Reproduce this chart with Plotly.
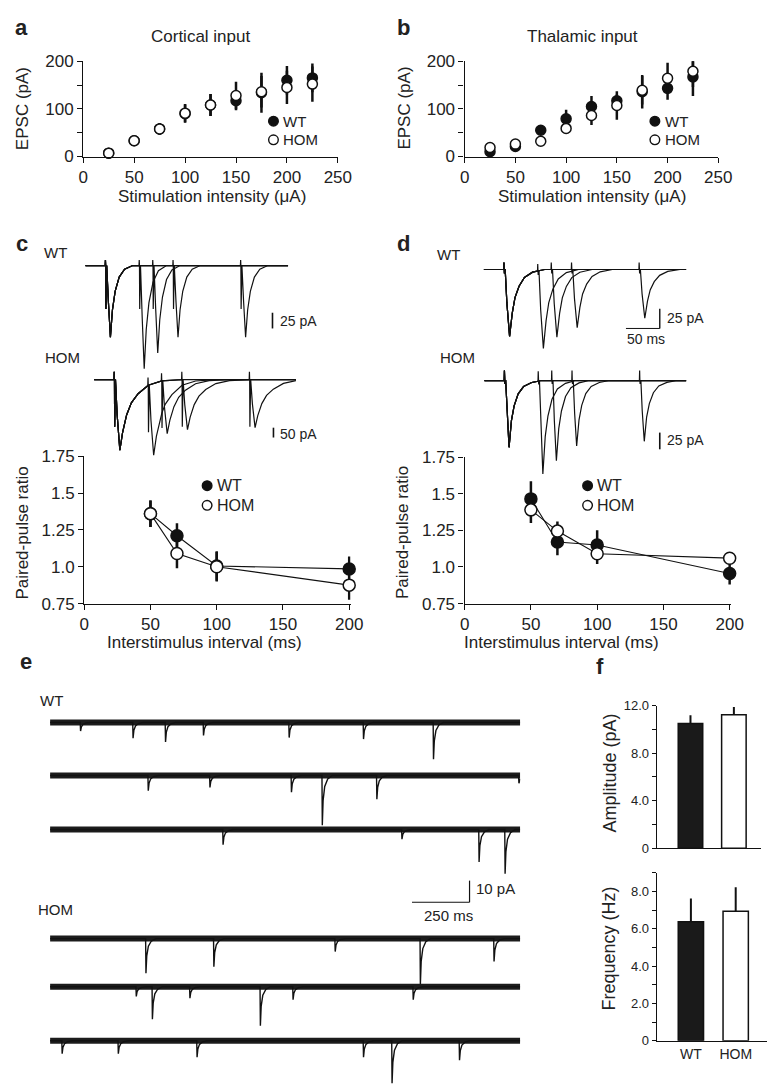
import numpy as np
import plotly.graph_objects as go

W, H = 776, 1086
FONT = "Liberation Sans, Arial, Helvetica, sans-serif"
INK = "#111111"
TXT = "#222222"

# ---------------- data ----------------
stim_intensity = [25, 50, 75, 100, 125, 150, 175, 200, 225]
cortical_wt = [7, 33, 58, 90, 108, 117, 134, 160, 165]
cortical_wt_err = [3, 5, 12, 19, 23, 20, 42, 30, 30]
cortical_hom = [7, 33, 58, 91, 108, 128, 136, 145, 152]
cortical_hom_err = [3, 5, 12, 19, 23, 29, 33, 35, 37]
thalamic_wt = [10, 21, 55, 79, 105, 117, 136, 143, 167]
thalamic_wt_err = [4, 4, 6, 19, 22, 13, 35, 24, 40]
thalamic_hom = [19, 26, 32, 59, 86, 107, 139, 164, 179]
thalamic_hom_err = [4, 4, 6, 10, 20, 30, 30, 33, 33]
intensity_ticks = [0, 50, 100, 150, 200, 250]
epsc_ticks = [0, 50, 100, 150, 200]
epsc_ticktext = ["0", "", "100", "", "200"]

isi_ms = [50, 70, 100, 200]
ppr_cort_wt = [1.36, 1.21, 1.005, 0.985]
ppr_cort_wt_err = [0.09, 0.085, 0.10, 0.085]
ppr_cort_hom = [1.36, 1.09, 1.0, 0.875]
ppr_cort_hom_err = [0.09, 0.10, 0.10, 0.10]
ppr_thal_wt = [1.465, 1.17, 1.15, 0.955]
ppr_thal_wt_err = [0.12, 0.09, 0.10, 0.075]
ppr_thal_hom = [1.39, 1.245, 1.09, 1.06]
ppr_thal_hom_err = [0.09, 0.066, 0.07, 0.02]
isi_ticks = [0, 50, 100, 150, 200]
ppr_ticks = [0.75, 1.0, 1.25, 1.5, 1.75]
ppr_ticktext = ["0.75", "1.0", "1.25", "1.5", "1.75"]

# example paired-pulse sweeps: first / second EPSC amplitude (pA) for each ISI
sweep_cort_wt_first = 114
sweep_cort_wt_second = [164, 139, 114, 114]
sweep_cort_hom_first = 360
sweep_cort_hom_second = [365, 270, 255, 245]
sweep_thal_wt_first = 85
sweep_thal_wt_second = [100, 86, 74, 62]
sweep_thal_hom_first = 100
sweep_thal_hom_second = [140, 120, 98, 91]
# EPSC waveforms (ms after stimulus, fraction of peak)
epsc_cort_wt_t = [0, 1.5, 4, 7, 10, 14, 20, 28, 40]
epsc_cort_wt_f = [0, 0, 0.5, 1, 0.62, 0.36, 0.16, 0.05, 0]
epsc_cort_hom_t = [0, 1.5, 4, 8, 12, 18, 25, 35, 50, 70, 100]
epsc_cort_hom_f = [0, 0, 0.5, 1, 0.75, 0.5, 0.33, 0.2, 0.08, 0.02, 0]
epsc_thal_wt_t = [0, 1.5, 4, 8, 12, 16, 22, 30, 42, 60]
epsc_thal_wt_f = [0, 0, 0.5, 1, 0.65, 0.42, 0.25, 0.12, 0.04, 0]
epsc_thal_hom_t = [0, 1.5, 3.5, 6.5, 10, 14, 20, 28, 40, 55]
epsc_thal_hom_f = [0, 0, 0.5, 1, 0.6, 0.38, 0.2, 0.09, 0.03, 0]
# stimulus artefacts (pA up, pA down)
artefact_cort_wt = [9, 69]
artefact_cort_hom = [40, 240]
artefact_thal_wt = [9, 5]
artefact_thal_hom = [15, 5]
sweep_window_ms = [-30, 270]

# miniature EPSCs: event times (ms) and amplitudes (pA) per 2-s row
mini_row_ms = 2042
mini_wt_times = [[131, 359, 500, 665, 1037, 1360, 1664],
                 [425, 693, 1047, 1181, 1418, 2035],
                 [750, 1527, 1862, 1975]]
mini_wt_amps = [[4, 7.3, 9, 6, 7, 7.7, 17],
                [7, 5.5, 7.7, 23, 11, 3.6],
                [7, 4.5, 15, 20.5]]
mini_hom_times = [[415, 710, 1237, 1607, 1927],
                  [373, 443, 606, 912, 1054, 1576],
                  [51, 295, 637, 1360, 1484, 1777]]
mini_hom_amps = [[16, 13, 6, 21, 10.6],
                 [4.5, 15, 5.3, 18, 6, 6],
                 [6, 6, 7.6, 7.6, 19.7, 9]]
mini_shape_t = [0, 1.5, 5, 12, 25, 45]
mini_shape_f = [0, 1, 0.5, 0.22, 0.07, 0]

categories = ["WT", "HOM"]
amplitude_mean = [10.5, 11.25]
amplitude_sem = [0.7, 0.65]
frequency_mean = [6.37, 6.94]
frequency_sem = [1.25, 1.29]
amp_ticks = [0, 2, 4, 6, 8, 10, 12]
amp_ticktext = ["0", "", "4.0", "", "8.0", "", "12.0"]
freq_ticks = [0, 1, 2, 3, 4, 5, 6, 7, 8, 9]
freq_ticktext = ["0", "", "2.0", "", "4.0", "", "6.0", "", "8.0", ""]

# ---------------- helpers ----------------
def px(x):
    return x / W


def py(y):
    return 1 - y / H


layout = {}
traces = []
shapes = []
annotations = []
_n = [0]

HIDDEN = dict(visible=False, showgrid=False, zeroline=False, fixedrange=True)


def axstyle(size=17, **kw):
    d = dict(showline=True, linecolor=INK, linewidth=1.4, ticks="outside", ticklen=5,
             tickwidth=1.4, tickcolor=INK, showgrid=False, zeroline=False, fixedrange=True,
             tickfont=dict(family=FONT, size=size, color=TXT))
    d.update(kw)
    return d


def add_axes(xpx, ypx, xrange, yrange, xs=None, ys=None):
    _n[0] += 1
    k = "" if _n[0] == 1 else str(_n[0])
    xa = dict(HIDDEN) if xs is None else dict(xs)
    ya = dict(HIDDEN) if ys is None else dict(ys)
    xa.update(domain=[px(xpx[0]), px(xpx[1])], range=xrange, anchor="y" + k)
    ya.update(domain=[py(ypx[1]), py(ypx[0])], range=yrange, anchor="x" + k)
    layout["xaxis" + k] = xa
    layout["yaxis" + k] = ya
    return "x" + k, "y" + k


def trace_axes(xpx, ref_px, px_per_ms, ypx, base_px, px_per_pa):
    # x: time (ms) with 0 at ref_px; y: current (pA) with 0 at base_px
    y0, y1 = ypx[0], min(ypx[1], H)
    xr = [(xpx[0] - ref_px) / px_per_ms, (xpx[1] - ref_px) / px_per_ms]
    yr = [-(y1 - base_px) / px_per_pa, (base_px - y0) / px_per_pa]
    return add_axes(xpx, (y0, y1), xr, yr)


def ann(text, x, y, size=17, xanchor="center", yanchor="middle", bold=False, angle=0, color=TXT):
    annotations.append(dict(text=("<b>%s</b>" % text) if bold else text, x=px(x), y=py(y),
                            xref="paper", yref="paper", showarrow=False, xanchor=xanchor,
                            yanchor=yanchor, textangle=angle,
                            font=dict(family=FONT, size=size, color=color)))


def line_px(x0, y0, x1, y1, w=1.6):
    shapes.append(dict(type="line", xref="paper", yref="paper", x0=px(x0), y0=py(y0),
                       x1=px(x1), y1=py(y1), line=dict(color=INK, width=w)))


def legend_key(x, y, filled, label, size=16, r=4.8):
    shapes.append(dict(type="circle", xref="paper", yref="paper", xsizemode="pixel",
                       ysizemode="pixel", xanchor=px(x), yanchor=py(y), x0=-r, x1=r, y0=-r, y1=r,
                       fillcolor=INK if filled else "white", line=dict(color=INK, width=1.4)))
    ann(label, x + 8, y, size=size, xanchor="left")


def scatter_pair(xa, ya, xvals, wt, wt_err, hom, hom_err, msize, lines):
    for vals, err, filled in ((wt, wt_err, True), (hom, hom_err, False)):
        traces.append(go.Scatter(
            x=xvals, y=vals, xaxis=xa, yaxis=ya, mode="lines+markers" if lines else "markers",
            line=dict(color=INK, width=1.1), cliponaxis=False, hoverinfo="skip", showlegend=False,
            marker=dict(size=msize, color=INK if filled else "white", line=dict(color=INK, width=1.5)),
            error_y=dict(type="data", array=err, visible=True, thickness=2.5, width=0, color=INK)))


def sweep(isi, a1, a2, shp_t, shp_f, art):
    art_t = [-0.7, -0.35, 0.0, 0.35, 0.7]
    art_v = [0, art[0], 0, -art[1], 0]
    comps = [(0, a1), (isi, a2)]
    grid = list(sweep_window_ms)
    for ts, _ in comps:
        grid += [ts + v for v in art_t] + [ts + v for v in shp_t]
    grid = np.unique(np.array(grid, dtype=float))
    y = np.zeros_like(grid)
    for ts, a in comps:
        y -= a * np.interp(grid - ts, shp_t, shp_f, left=0, right=0)
        y += np.interp(grid - ts, art_t, art_v, left=0, right=0)
    return grid, y


def draw_sweeps(xa, ya, first, seconds, shp_t, shp_f, art):
    for isi, a2 in zip(isi_ms, seconds):
        t, y = sweep(isi, first, a2, shp_t, shp_f, art)
        traces.append(go.Scatter(x=t, y=y, xaxis=xa, yaxis=ya, mode="lines", hoverinfo="skip",
                                 showlegend=False, line=dict(color=INK, width=1.2)))


def draw_mini_row(xa, ya, times, amps):
    grid = [0.0, float(mini_row_ms)]
    for t0 in times:
        grid += [t0 + v for v in mini_shape_t]
    grid = np.unique(np.clip(np.array(grid), 0, mini_row_ms))
    y = np.zeros_like(grid)
    for t0, a in zip(times, amps):
        y -= a * np.interp(grid - t0, mini_shape_t, mini_shape_f, left=0, right=0)
    # recording-noise band drawn as a thick dark stroke along the baseline
    traces.append(go.Scatter(x=[0, mini_row_ms], y=[0, 0], xaxis=xa, yaxis=ya, mode="lines",
                             hoverinfo="skip", showlegend=False,
                             line=dict(color="#1c1c1c", width=6)))
    traces.append(go.Scatter(x=grid, y=y, xaxis=xa, yaxis=ya, mode="lines", hoverinfo="skip",
                             showlegend=False, line=dict(color=INK, width=1.4)))


# ---------------- panels a, b ----------------
for (x0, x1), wt, wte, hom, home, title, tx in (
        ((72, 333), cortical_wt, cortical_wt_err, cortical_hom, cortical_hom_err, "Cortical input", 192),
        ((463, 723), thalamic_wt, thalamic_wt_err, thalamic_hom, thalamic_hom_err, "Thalamic input", 584)):
    xa, ya = add_axes((x0, x1), (45, 142), [0, 250], [0, 200],
                      axstyle(tickvals=intensity_ticks),
                      axstyle(tickvals=epsc_ticks, ticktext=epsc_ticktext))
    scatter_pair(xa, ya, stim_intensity, wt, wte, hom, home, 10, False)
    ann(title, tx, 20)
    ann("Stimulation intensity (\u03bcA)", (x0 + x1) / 2 + 1, 183)
    ann("EPSC (pA)", x0 - 62, 93, angle=-90)
    legend_key(x0 + 195, 106, True, "WT", size=15)
    legend_key(x0 + 195, 125, False, "HOM", size=15)

ann("a", 9, 11, size=22, bold=True)
ann("b", 400, 11, size=22, bold=True)

# ---------------- panels c, d: example traces ----------------
K = 0.693  # px per ms
xa, ya = trace_axes((74, 282), 95, K, (228, 372), 253, 0.64)
draw_sweeps(xa, ya, sweep_cort_wt_first, sweep_cort_wt_second, epsc_cort_wt_t, epsc_cort_wt_f, artefact_cort_wt)
xa, ya = trace_axes((83, 290), 104, K, (345, 470), 369, 0.2)
draw_sweeps(xa, ya, sweep_cort_hom_first, sweep_cort_hom_second, epsc_cort_hom_t, epsc_cort_hom_f, artefact_cort_hom)
xa, ya = trace_axes((482, 690), 503.5, K, (235, 345), 257, 0.8)
draw_sweeps(xa, ya, sweep_thal_wt_first, sweep_thal_wt_second, epsc_thal_wt_t, epsc_thal_wt_f, artefact_thal_wt)
xa, ya = trace_axes((483, 690), 504, K, (350, 470), 370, 0.68)
draw_sweeps(xa, ya, sweep_thal_hom_first, sweep_thal_hom_second, epsc_thal_hom_t, epsc_thal_hom_f, artefact_thal_hom)

# scale bars
line_px(266, 301, 266, 301 + 25 * 0.64)
ann("25 pA", 272, 309, size=14, xanchor="left")
line_px(267, 418, 267, 418 + 50 * 0.2)
ann("50 pA", 272, 424, size=14, xanchor="left")
line_px(663, 297, 663, 297 + 25 * 0.8, w=1.4)
line_px(663 - 50 * K, 317, 663, 317, w=1.0)
ann("25 pA", 668, 306, size=14, xanchor="left")
ann("50 ms", 649, 328, size=14)
line_px(663, 423, 663, 423 + 25 * 0.68)
ann("25 pA", 668, 431, size=14, xanchor="left")

ann("c", 9, 231, size=22, bold=True)
ann("d", 400, 231, size=22, bold=True)
ann("WT", 44, 240, size=15)
ann("WT", 446, 242, size=15)
ann("HOM", 51, 347, size=15)
ann("HOM", 456, 347, size=15)

# ---------------- panels c, d: paired-pulse ratio ----------------
for (x0, x1), (y0, y1), wt, wte, hom, home, tcx in (
        ((73, 346), (447, 597), ppr_cort_wt, ppr_cort_wt_err, ppr_cort_hom, ppr_cort_hom_err, 196),
        ((463, 736), (448, 597), ppr_thal_wt, ppr_thal_wt_err, ppr_thal_hom, ppr_thal_hom_err, 562)):
    xa, ya = add_axes((x0, x1), (y0, y1), [0, 201], [0.75, 1.75],
                      axstyle(tickvals=isi_ticks),
                      axstyle(tickvals=ppr_ticks, ticktext=ppr_ticktext))
    scatter_pair(xa, ya, isi_ms, wt, wte, hom, home, 12, True)
    ann("Paired-pulse ratio", x0 - 63, 525, angle=-90)
    ann("Interstimulus interval (ms)", tcx, 637)
    legend_key(x0 + 126, 477, True, "WT", size=16)
    legend_key(x0 + 126, 497, False, "HOM", size=16)

# ---------------- panel e: miniature EPSCs ----------------
E_K = 0.236  # px per ms
E_S = 2.2    # px per pA
for base, times, amps in zip((718, 772, 827), mini_wt_times, mini_wt_amps):
    xa, ya = trace_axes((38, 520), 38, E_K, (base - 65, base + 60), base, E_S)
    draw_mini_row(xa, ya, times, amps)
for base, times, amps in zip((938, 987, 1042), mini_hom_times, mini_hom_amps):
    xa, ya = trace_axes((38, 520), 38, E_K, (base - 65, base + 60), base, E_S)
    draw_mini_row(xa, ya, times, amps)

line_px(468 - 250 * E_K, 901, 468, 901, w=1.2)
line_px(468, 901 - 10 * E_S, 468, 901, w=1.2)
ann("10 pA", 473, 887, size=15, xanchor="left")
ann("250 ms", 446, 914, size=15)
ann("e", 13, 656, size=22, bold=True)
ann("WT", 39, 696, size=15)
ann("HOM", 44, 908, size=15)

# ---------------- panel f: bars ----------------
for (x0, x1), (y0, y1), xr, yr, means, sems, yt, ytt, show, title, tyc in (
        ((660, 767), (701, 846), [-0.775, 1.63], [0, 12], amplitude_mean, amplitude_sem,
         amp_ticks, amp_ticktext, False, "Amplitude (pA)", 770),
        ((660, 773), (871, 1042), [-0.76, 1.70], [0, 9], frequency_mean, frequency_sem,
         freq_ticks, freq_ticktext, True, "Frequency (Hz)", 948)):
    xa, ya = add_axes((x0, x1), (y0, y1), xr, yr,
                      axstyle(size=14, type="category", ticks="", showticklabels=show),
                      axstyle(size=13, tickvals=yt, ticktext=ytt, ticklen=4))
    traces.append(go.Bar(x=categories, y=means, xaxis=xa, yaxis=ya, width=0.565, hoverinfo="skip",
                         showlegend=False, cliponaxis=False,
                         marker=dict(color=["#1a1a1a", "white"], line=dict(color=INK, width=1.5)),
                         error_y=dict(type="data", array=sems, arrayminus=[0, 0], symmetric=False,
                                      thickness=2, width=0, color=INK)))
    ann(title, 611, tyc, size=18, angle=-90)
ann("f", 602, 661, size=22, bold=True)

fig = go.Figure(data=traces)
fig.update_layout(width=W, height=H, autosize=False, margin=dict(l=0, r=0, t=0, b=0),
                  paper_bgcolor="white", plot_bgcolor="rgba(0,0,0,0)",
                  font=dict(family=FONT, color=TXT), shapes=shapes, annotations=annotations,
                  showlegend=False, **layout)
fig.write_html("out.html")
